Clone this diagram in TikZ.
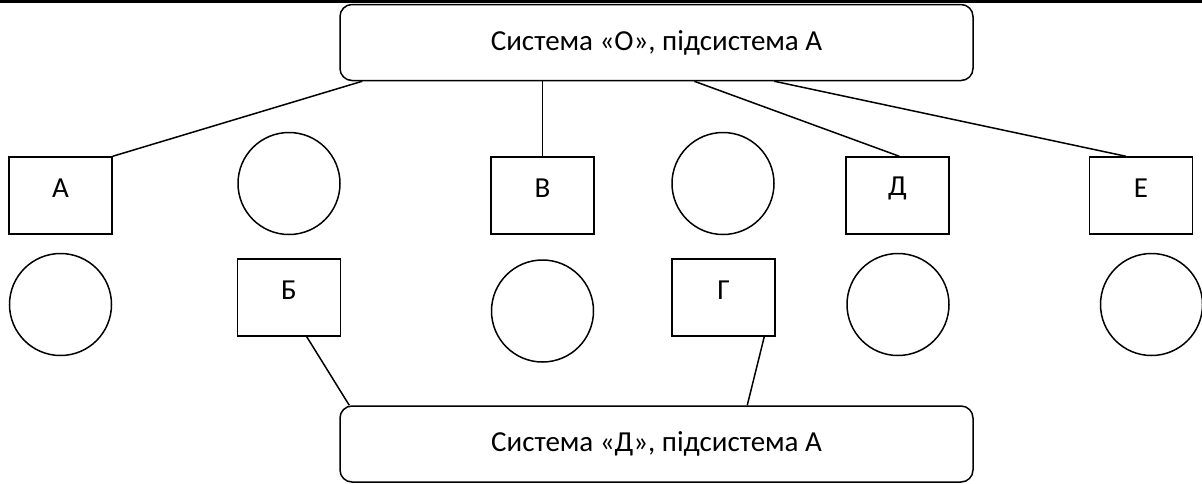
\documentclass[tikz,border=0pt]{standalone}
\usepackage{fontspec}
\setmainfont{Carlito}
\usetikzlibrary{calc}
\begin{document}
\begin{tikzpicture}[x=1pt,y=-1pt,
  txt/.style={font=\fontsize{29}{34}\selectfont},
  sq/.style={draw,line width=1.5pt,minimum width=103pt,minimum height=77pt,inner sep=0pt},
  letter/.style={txt,inner sep=0pt,yshift=7pt},
  circ/.style={draw,circle,line width=1.5pt,minimum size=102pt,inner sep=0pt},
  sysbox/.style={draw,line width=1.5pt,rounded corners=12pt,minimum width=633pt,minimum height=76pt,
    inner sep=0pt,txt},
  link/.style={line width=1.5pt}]
\useasboundingbox (0,0) rectangle (1202,483);
\draw[line width=3pt] (0,1.5) coordinate (tl) -- (1202,1.5) coordinate (tr);
\node[sysbox] (top) at (656.5,42.5) {Система «О», підсистема А};
\node[sysbox] (bot) at (656.5,444) {Система «Д», підсистема А};
% row 1
\node[sq] (A) at (60.5,195.5) {};
\node[letter] (tA) at (A.center) {А};
\node[circ] (c1) at (289,183.5) {};
\node[sq] (V) at (542.5,195.5) {};
\node[letter] (tV) at (V.center) {В};
\node[circ] (c2) at (723,183.5) {};
\node[sq] (D) at (897.5,195.5) {};
\node[letter] (tD) at (D.center) {Д};
\node[sq] (E) at (1141,195.5) {};
\node[letter] (tE) at (E.center) {Е};
% row 2
\node[circ] (c3) at (60.5,304.5) {};
\node[sq] (B) at (289,297.5) {};
\node[letter] (tB) at (B.center) {Б};
\node[circ] (c4) at (542.5,311) {};
\node[sq] (G) at (723.5,297.5) {};
\node[letter] (tG) at (G.center) {Г};
\node[circ] (c5) at (898,304.5) {};
\node[circ] (c6) at (1151.5,304.5) {};
% connectors
\draw[link] ($(top.south west)+(23,0)$) -- (A.north east);
\draw[link] (top.south -| V.north) -- (V.north);
\draw[link] ($(top.south west)+(355,0)$) -- ($(D.north west)+(54,0)$);
\draw[link] ($(top.south west)+(435,0)$) -- ($(E.north west)+(37,0)$);
\draw[link] ($(B.south west)+(70,0)$) -- ($(bot.north west)+(10,0)$);
\draw[link] ($(G.south west)+(93,0)$) -- ($(bot.north west)+(408,0)$);
\end{tikzpicture}
\end{document}
